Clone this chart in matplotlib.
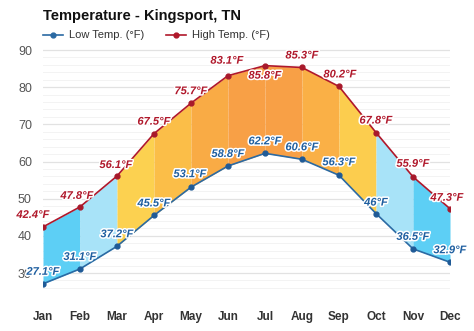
import matplotlib
matplotlib.use("Agg")
import matplotlib.pyplot as plt
import matplotlib.patheffects as pe
import numpy as np

plt.rcParams["font.family"] = ["Liberation Sans", "DejaVu Sans"]

months = ["Jan", "Feb", "Mar", "Apr", "May", "Jun",
          "Jul", "Aug", "Sep", "Oct", "Nov", "Dec"]
low_f  = [27.1, 31.1, 37.2, 45.5, 53.1, 58.8, 62.2, 60.6, 56.3, 46.0, 36.5, 32.9]
high_f = [42.4, 47.8, 56.1, 67.5, 75.7, 83.1, 85.8, 85.3, 80.2, 67.8, 55.9, 47.3]
low_labels  = ["27.1°F", "31.1°F", "37.2°F", "45.5°F", "53.1°F", "58.8°F",
               "62.2°F", "60.6°F", "56.3°F", "46°F", "36.5°F", "32.9°F"]
high_labels = ["42.4°F", "47.8°F", "56.1°F", "67.5°F", "75.7°F", "83.1°F",
               "85.8°F", "85.3°F", "80.2°F", "67.8°F", "55.9°F", "47.3°F"]
# fill colour of each month-to-month band
band_colors = ["#5dcff5", "#a8e3f8", "#fcd150", "#fbbe48", "#f9ab45", "#f8a046",
               "#f8a046", "#fab046", "#fccd4e", "#a8e3f8", "#5dcff5"]

LOW_C  = "#1f5fa0"
HIGH_C = "#b0182b"

fig = plt.figure(figsize=(4.74, 3.31), dpi=100)
ax = fig.add_axes([43 / 474, 1 - 291.6 / 331, 407 / 474, 245.3 / 331])

x = np.arange(len(months))
for i in range(len(months) - 1):
    ax.fill_between(x[i:i + 2], low_f[i:i + 2], high_f[i:i + 2],
                    color=band_colors[i], lw=0, zorder=1)

ax.plot(x, low_f, color="#2b6aa3", lw=1.2, marker="o", ms=3.5,
        mfc="#1f5a96", mec="#1f5a96", zorder=3)
ax.plot(x, high_f, color="#b0182b", lw=1.2, marker="o", ms=3.5,
        mfc="#a8192b", mec="#a8192b", zorder=3)

stroke = [pe.withStroke(linewidth=2.2, foreground="white")]
# label offsets in pixels (dx, dy)
high_off = [(-10, 12), (-3, 11), (-1, 11), (0, 12), (0, 12), (-1, 15),
            (0, -10), (0, 12), (1, 12), (0, 12), (0, 13), (-3, 11)]
low_off = [(0, 12), (0, 12), (0, 12), (0, 12), (-1, 13), (0, 12),
           (0, 12), (0, 12), (0, 13), (0, 11), (0, 12), (0, 12)]
for i in range(len(months)):
    ax.annotate(high_labels[i], (x[i], high_f[i]), xytext=high_off[i],
                textcoords="offset pixels", ha="center", va="center",
                fontsize=8, fontweight="bold", fontstyle="italic",
                color=HIGH_C, path_effects=stroke, zorder=5,
                annotation_clip=False)
    ax.annotate(low_labels[i], (x[i], low_f[i]), xytext=low_off[i],
                textcoords="offset pixels", ha="center", va="center",
                fontsize=8, fontweight="bold", fontstyle="italic",
                color=LOW_C, path_effects=stroke, zorder=5,
                annotation_clip=False)

ax.set_xlim(0, 11)
ax.set_ylim(25, 91)
ax.set_yticks([30, 40, 50, 60, 70, 80, 90])
ax.set_yticks(np.arange(26, 91, 2), minor=True)
ax.grid(axis="y", which="major", color="#e2e2e2", lw=0.9, zorder=0)
ax.grid(axis="y", which="minor", color="#f3f3f3", lw=0.7, zorder=0)
ax.set_axisbelow(True)
ax.set_xticks(x)
ax.set_xticklabels(months, fontsize=8.5, fontweight="bold", color="#333333")
ax.tick_params(axis="x", length=0, pad=14)
ax.tick_params(axis="y", which="both", length=0, labelsize=9,
               labelcolor="#555555", pad=8)
for s in ax.spines.values():
    s.set_visible(False)

fig.text(43 / 474, 1 - 16 / 331, "Temperature - Kingsport, TN",
         fontsize=10.5, fontweight="bold", color="#111111", va="center")

# legend drawn by hand, in figure coordinates
leg_y = 1 - 34.5 / 331
fig.add_artist(plt.Line2D([43 / 474, 53 / 474, 63 / 474], [leg_y] * 3,
                          color="#2b6aa3", lw=1.2, marker="o", ms=3.5,
                          markevery=[1], transform=fig.transFigure))
fig.text(69 / 474, leg_y, "Low Temp. (°F)", fontsize=8, color="#333333",
         va="center")
fig.add_artist(plt.Line2D([166 / 474, 176 / 474, 186 / 474], [leg_y] * 3,
                          color="#b0182b", lw=1.2, marker="o", ms=3.5,
                          markevery=[1], transform=fig.transFigure))
fig.text(192 / 474, leg_y, "High Temp. (°F)", fontsize=8, color="#333333",
         va="center")

fig.savefig("out.png", dpi=100, facecolor="white")
